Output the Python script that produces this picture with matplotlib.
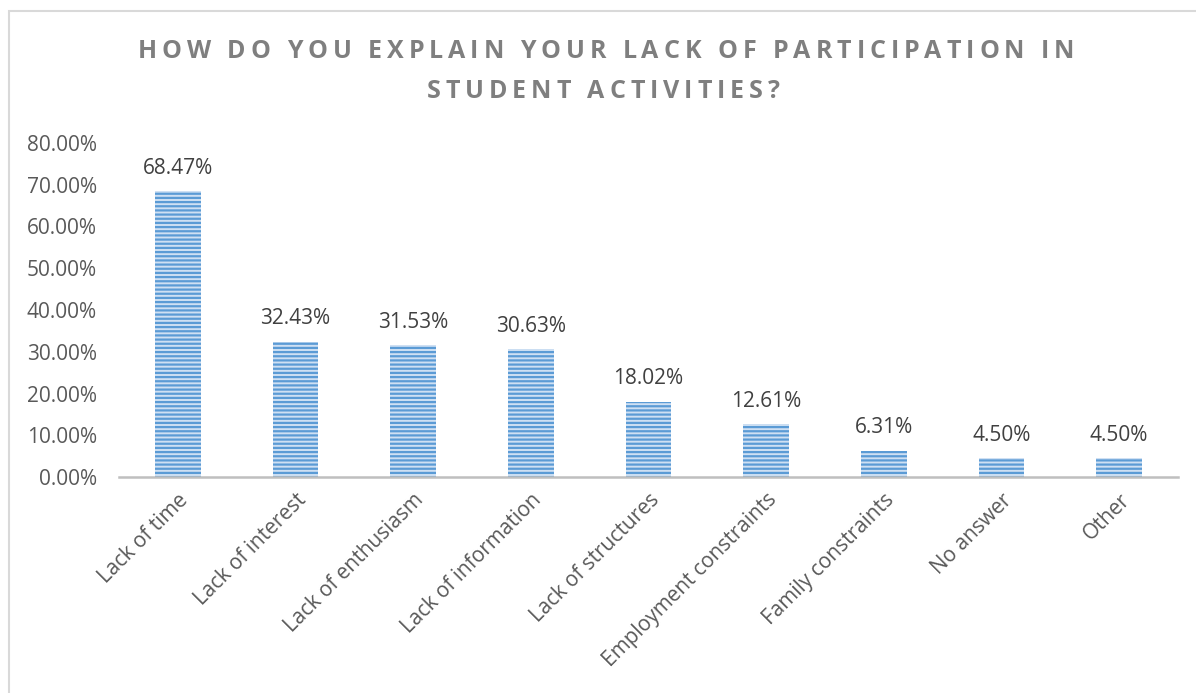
import matplotlib
matplotlib.use('Agg')

import matplotlib.pyplot as plt
from matplotlib.patches import Rectangle
from matplotlib.ticker import PercentFormatter

plt.rcParams['font.family'] = ['Open Sans', 'DejaVu Sans']
plt.rcParams['hatch.linewidth'] = 1.6

categories = ["Lack of time", "Lack of interest", "Lack of enthusiasm",
              "Lack of information", "Lack of structures",
              "Employment constraints", "Family constraints", "No answer", "Other"]
shares = [68.47, 32.43, 31.53, 30.63, 18.02, 12.61, 6.31, 4.50, 4.50]
yticks = [0, 10, 20, 30, 40, 50, 60, 70, 80]
title_lines = ["HOW DO YOU EXPLAIN YOUR LACK OF PARTICIPATION IN",
               "STUDENT ACTIVITIES?"]

W, H = 1196, 693
fig = plt.figure(figsize=(W / 100, H / 100), dpi=100)

# light frame around the chart area
fig.patches.append(Rectangle((8.5 / W, -0.1), 1.2, 1.1 - 11.5 / H,
                             transform=fig.transFigure, fill=False,
                             edgecolor='#d9d9d9', linewidth=1.5))

ax = fig.add_axes([119 / W, 1 - 477 / H, (1178 - 119) / W, (477 - 143) / H])

x = range(len(categories))
bars = ax.bar(x, shares, width=0.39, color='#cfe0f3', edgecolor='#5b9bd5',
              linewidth=0, hatch='----')

for xi, v in zip(x, shares):
    ax.annotate("%.2f%%" % v, (xi, v), xytext=(0, 9), textcoords='offset points',
                ha='center', va='bottom', fontsize=15, color='#404040')

ax.set_xlim(-0.5, len(categories) - 0.5)
ax.set_ylim(0, 80)
ax.set_yticks(yticks)
ax.yaxis.set_major_formatter(PercentFormatter(decimals=2))
ax.set_xticks(list(x))
ax.set_xticklabels(categories, rotation=45, ha='right', rotation_mode='anchor')

for side in ['top', 'right', 'left']:
    ax.spines[side].set_visible(False)
ax.spines['bottom'].set_color('#bfbfbf')
ax.spines['bottom'].set_linewidth(1.8)
ax.tick_params(axis='y', length=0, pad=16, labelsize=15, labelcolor='#595959')
ax.tick_params(axis='x', length=0, pad=9, labelsize=15, labelcolor='#595959')


def spaced_text(fig, s, xc, yc, tracking, **kw):
    # draw a string one glyph at a time with extra spacing between letters
    r = fig.canvas.get_renderer()
    probe = fig.text(0, 0, s, **kw)
    prop = probe.get_fontproperties()
    probe.remove()
    widths = []
    for ch in s:
        w, _, _ = r.get_text_width_height_descent(ch, prop, ismath=False)
        widths.append(w)
    total = sum(widths) + tracking * (len(s) - 1)
    xp = xc * W - total / 2
    for ch, w in zip(s, widths):
        fig.text(xp / W, yc, ch, ha='left', va='center', **kw)
        xp += w + tracking


title_kw = dict(fontsize=18, fontweight='bold', color='#7f7f7f')
spaced_text(fig, title_lines[0], 606 / W, 1 - 52 / H, 4.95, **title_kw)
spaced_text(fig, title_lines[1], 603 / W, 1 - 92 / H, 4.95, **title_kw)

fig.savefig("out.png", dpi=100)
